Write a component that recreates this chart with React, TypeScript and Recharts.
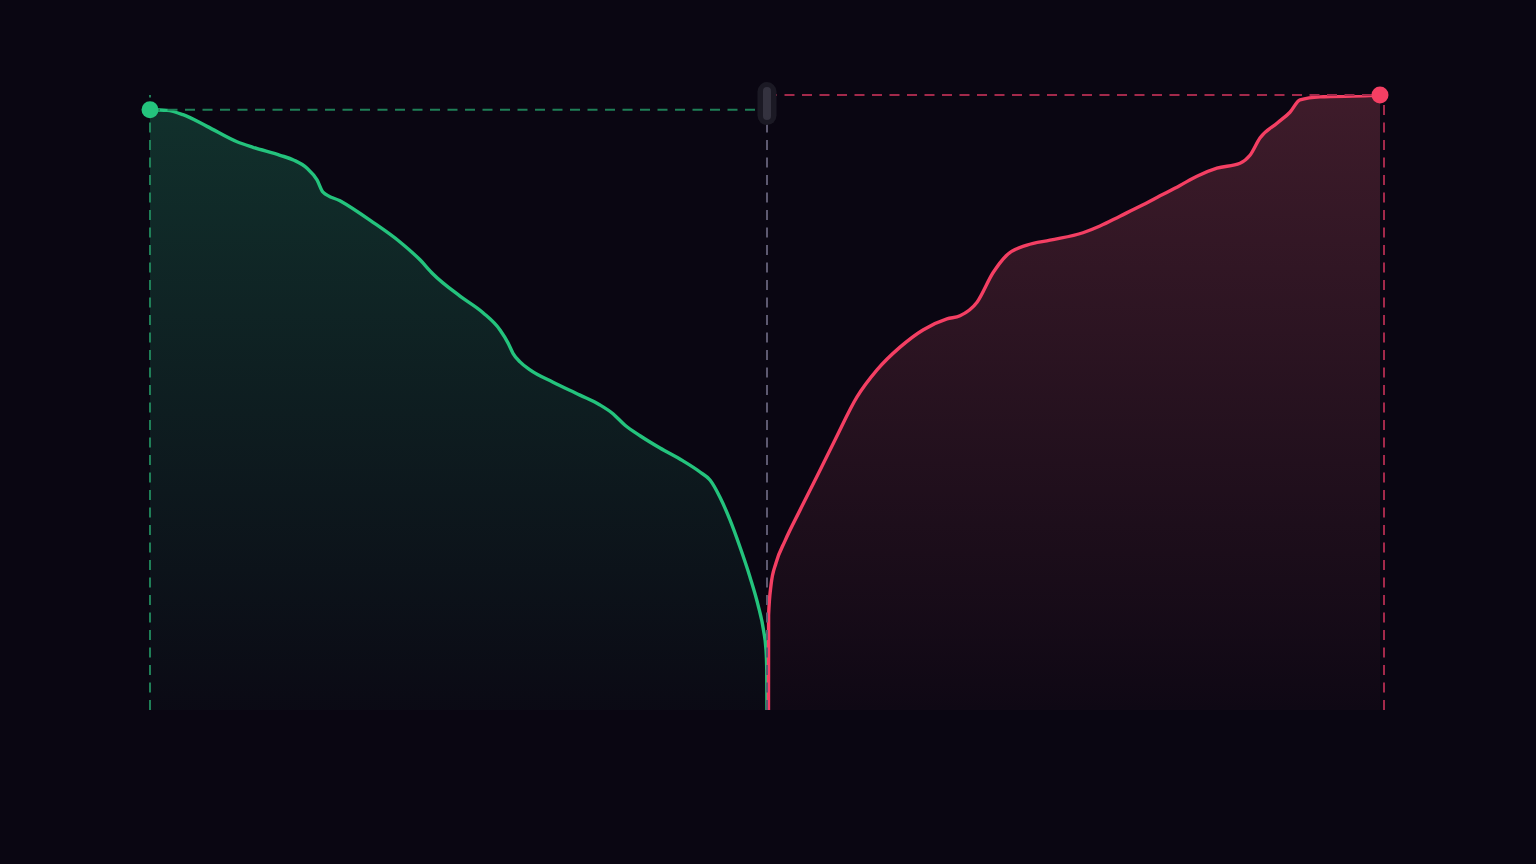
import React from "react";
import { ComposedChart, Area, XAxis, YAxis, ReferenceLine, ReferenceDot } from "recharts";

// Bid side (cumulative volume by price), price ascending toward mid
const bidPrices = [90.0, 90.276, 90.535, 90.924, 91.41, 91.669, 92.107, 92.334, 92.545, 92.707, 92.804, 93.079, 93.614, 94.052, 94.376, 94.587, 95.024, 95.397, 95.673, 95.802, 95.883, 95.997, 96.159, 96.532, 96.969, 97.293, 97.488, 97.699, 97.942, 98.266, 98.639, 98.914, 99.076, 99.238, 99.4, 99.562, 99.725, 99.854, 99.943, 99.984, 99.996, 100.0];
const bidVolumes = [976, 975, 968, 949, 924, 915, 902, 894, 881, 862, 842, 828, 793, 761, 732, 709, 673, 646, 618, 597, 580, 566, 553, 533, 512, 496, 483, 463, 446, 426, 405, 387, 374, 346, 309, 265, 216, 171, 130, 98, 65, 0];

// Ask side
const askPrices = [100.024, 100.026, 100.065, 100.146, 100.292, 100.535, 100.859, 101.102, 101.459, 101.783, 102.156, 102.528, 102.917, 103.128, 103.404, 103.663, 103.89, 104.214, 104.587, 105.121, 105.397, 105.721, 106.045, 106.37, 106.694, 106.969, 107.293, 107.666, 107.828, 107.99, 108.266, 108.476, 108.639, 108.963, 109.773, 109.935];
const askVolumes = [0, 154, 203, 239, 275, 325, 390, 439, 509, 553, 590, 618, 636, 641, 663, 711, 740, 756, 764, 776, 787, 803, 819, 836, 853, 868, 881, 889, 902, 930, 954, 972, 992, 997, 999, 1000];

const midPrice = 100;
const priceDomain = [90, 110];
const volumeDomain = [0, 1000];

const bids = bidPrices.map((p, i) => ({ price: p, vol: bidVolumes[i] }));
const asks = askPrices.map((p, i) => ({ price: p, vol: askVolumes[i] }));

const GREEN = "#24c37d";
const RED = "#f43f63";
const BG = "#0a0612";

const Handle = (props: any) => {
  const { cx, cy } = props;
  if (cx == null || cy == null) return null;
  return (
    <g>
      <rect x={cx - 9.5} y={cy - 21.5} width={19} height={43} rx={9.5} fill="#1b1924" />
      <rect x={cx - 4} y={cy - 16.5} width={8} height={33} rx={4} fill="#34323f" />
    </g>
  );
};

export default function App() {
  const bidTop = bidVolumes[0];
  const askTop = askVolumes[askVolumes.length - 1];
  return (
    <div style={{ position: "fixed", inset: 0, background: BG }}>
      <div style={{ position: "absolute", left: 0, top: 0 }}>
        <ComposedChart
          width={1536}
          height={864}
          margin={{ top: 95, right: 152, bottom: 154, left: 150 }}
        >
          <defs>
            <linearGradient id="gFill" x1="0" y1="0" x2="0" y2="1">
              <stop offset="0%" stopColor="#2bc98a" stopOpacity={0.36} />
              <stop offset="100%" stopColor="#2bc98a" stopOpacity={0.035} />
            </linearGradient>
            <linearGradient id="rFill" x1="0" y1="0" x2="0" y2="1">
              <stop offset="0%" stopColor="#f5677f" stopOpacity={0.37} />
              <stop offset="100%" stopColor="#f5677f" stopOpacity={0.035} />
            </linearGradient>
          </defs>
          <XAxis type="number" dataKey="price" domain={priceDomain} hide allowDataOverflow />
          <YAxis type="number" domain={volumeDomain} hide allowDataOverflow />

          <ReferenceLine
            segment={[{ x: priceDomain[0], y: 0 }, { x: priceDomain[0], y: volumeDomain[1] }]}
            stroke="#1f7f57"
            strokeWidth={2}
            strokeDasharray="10 7.5"
          />
          <ReferenceLine
            segment={[{ x: priceDomain[0], y: bidTop }, { x: midPrice, y: bidTop }]}
            stroke="#1f7f57"
            strokeWidth={2}
            strokeDasharray="10 7.5"
          />
          <ReferenceLine
            segment={[{ x: priceDomain[1], y: 0 }, { x: priceDomain[1], y: askTop }]}
            stroke="#a3294b"
            strokeWidth={2}
            strokeDasharray="10 7.5"
          />
          <ReferenceLine
            segment={[{ x: midPrice, y: askTop }, { x: priceDomain[1], y: askTop }]}
            stroke="#a3294b"
            strokeWidth={2}
            strokeDasharray="10 7.5"
          />
          <ReferenceLine
            segment={[{ x: midPrice, y: 0 }, { x: midPrice, y: volumeDomain[1] }]}
            stroke="#5d5970"
            strokeWidth={2}
            strokeDasharray="10 7.5"
          />

          <Area
            data={bids}
            type="monotone"
            dataKey="vol"
            stroke={GREEN}
            strokeWidth={3.4}
            fill="url(#gFill)"
            isAnimationActive={false}
            dot={false}
            activeDot={false}
          />
          <Area
            data={asks}
            type="monotone"
            dataKey="vol"
            stroke={RED}
            strokeWidth={3.4}
            fill="url(#rFill)"
            isAnimationActive={false}
            dot={false}
            activeDot={false}
          />

          <ReferenceDot x={bidPrices[0]} y={bidTop} r={8.5} fill={GREEN} stroke="none" />
          <ReferenceDot x={askPrices[askPrices.length - 1]} y={askTop} r={8.5} fill={RED} stroke="none" />
          <ReferenceDot x={midPrice} y={986} r={10} shape={Handle} />
        </ComposedChart>
      </div>
    </div>
  );
}
